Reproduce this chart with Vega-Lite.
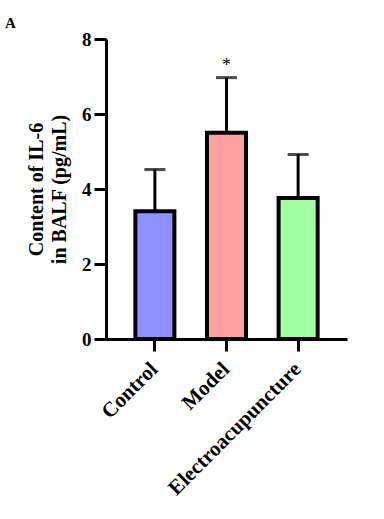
{
  "$schema": "https://vega.github.io/schema/vega-lite/v6.json",
  "autosize": "none",
  "width": 241,
  "height": 300,
  "padding": {"left": 106, "top": 39, "right": 37, "bottom": 180},
  "background": "white",
  "config": {
    "view": {"stroke": null},
    "font": "Liberation Serif"
  },
  "title": {
    "text": "A",
    "anchor": "start",
    "frame": "group",
    "orient": "top",
    "font": "Liberation Serif",
    "fontSize": 15,
    "fontWeight": "bold",
    "dx": -101,
    "dy": -3,
    "offset": -4,
    "color": "black"
  },
  "data": {
    "values": [
      {"group": "Control", "mean": 3.41, "upper": 4.52, "sig": ""},
      {"group": "Model", "mean": 5.5, "upper": 6.97, "sig": "*"},
      {"group": "Electroacupuncture", "mean": 3.76, "upper": 4.92, "sig": ""}
    ]
  },
  "encoding": {
    "x": {
      "field": "group",
      "type": "nominal",
      "sort": ["Control", "Model", "Electroacupuncture"],
      "scale": {"paddingInner": 0.455, "paddingOuter": 0.41},
      "axis": {
        "title": null,
        "labelAngle": -45,
        "labelFont": "Liberation Serif",
        "labelFontSize": 21,
        "labelFontWeight": "bold",
        "labelColor": "black",
        "labelLimit": 0,
        "labelOffset": -8,
        "labelPadding": 7,
        "domainColor": "black",
        "domainWidth": 3,
        "tickColor": "black",
        "tickWidth": 3,
        "tickSize": 12
      }
    }
  },
  "layer": [
    {
      "mark": {"type": "rule", "color": "black", "strokeWidth": 3},
      "encoding": {
        "y": {"field": "mean", "type": "quantitative"},
        "y2": {"field": "upper"}
      }
    },
    {
      "mark": {"type": "bar", "stroke": "black", "strokeWidth": 4},
      "encoding": {
        "y": {
          "field": "mean",
          "type": "quantitative",
          "scale": {"domain": [0, 8], "nice": false},
          "axis": {
            "values": [0, 2, 4, 6, 8],
            "grid": false,
            "title": ["Content of IL-6", "in BALF (pg/mL)"],
            "titleFont": "Liberation Serif",
            "titleFontSize": 20,
            "titleLineHeight": 23,
            "titleFontWeight": "bold",
            "titleColor": "black",
            "titlePadding": 12,
            "labelFont": "Liberation Serif",
            "labelFontSize": 19,
            "labelFontWeight": "bold",
            "labelColor": "black",
            "labelPadding": 3,
            "domainColor": "black",
            "domainWidth": 3,
            "tickColor": "black",
            "tickWidth": 3,
            "tickSize": 12
          }
        },
        "color": {
          "field": "group",
          "type": "nominal",
          "scale": {
            "domain": ["Control", "Model", "Electroacupuncture"],
            "range": ["#8F8FFF", "#FFA0A0", "#A0FFA0"]
          },
          "legend": null
        }
      }
    },
    {
      "mark": {"type": "tick", "color": "black", "thickness": 3, "size": 21},
      "encoding": {
        "y": {"field": "upper", "type": "quantitative"}
      }
    },
    {
      "mark": {"type": "text", "font": "Liberation Serif", "fontSize": 18, "baseline": "alphabetic", "dy": -7, "color": "black"},
      "encoding": {
        "y": {"field": "upper", "type": "quantitative"},
        "text": {"field": "sig"}
      }
    }
  ]
}
